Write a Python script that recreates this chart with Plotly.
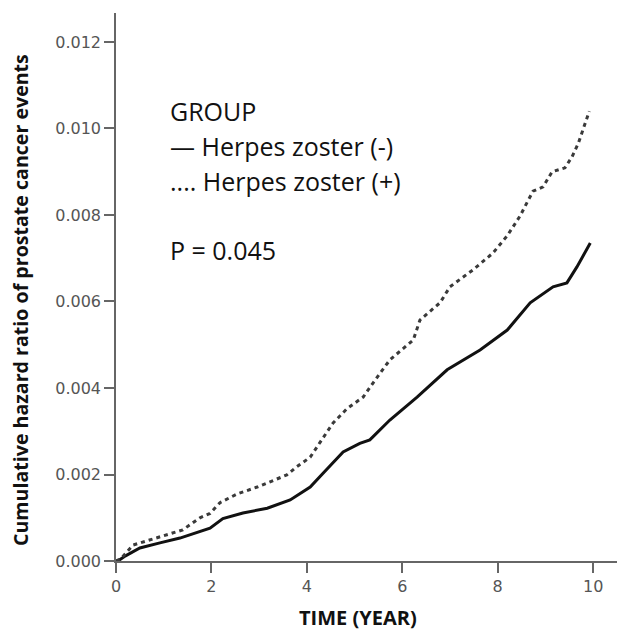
import plotly.graph_objects as go

# Herpes zoster (-) : solid line
t_neg = [0, 0.04, 0.2, 0.5, 0.92, 1.34, 1.97, 2.24, 2.66, 3.17, 3.65, 4.07, 4.34, 4.76,
         5.11, 5.32, 5.74, 6.31, 6.94, 7.63, 8.2, 8.68, 9.16, 9.45, 9.66, 9.94]
v_neg = [0, 0, 0.00012, 0.0003, 0.00042, 0.00053, 0.00076, 0.00098, 0.00111, 0.00122,
         0.00141, 0.00171, 0.00203, 0.00252, 0.00272, 0.0028, 0.00326, 0.00379, 0.00442,
         0.00488, 0.00534, 0.00597, 0.00634, 0.00643, 0.0068, 0.00735]

# Herpes zoster (+) : dotted line
t_pos = [0, 0.1, 0.36, 0.92, 1.4, 1.76, 1.97, 2.18, 2.54, 2.96, 3.3, 3.58, 3.79, 4.07,
         4.28, 4.55, 4.84, 5.18, 5.39, 5.74, 6.23, 6.37, 6.79, 7.0, 7.48, 7.9, 8.2, 8.47,
         8.62, 8.74, 8.95, 9.14, 9.41, 9.56, 9.69, 9.83, 9.92]
v_pos = [0, 0.00005, 0.00037, 0.00055, 0.00072, 0.001, 0.0011, 0.00135, 0.00155, 0.00171,
         0.00187, 0.00199, 0.00218, 0.0024, 0.00275, 0.00319, 0.00352, 0.00379, 0.00412,
         0.00465, 0.00511, 0.00557, 0.00597, 0.00634, 0.00673, 0.00712, 0.00752, 0.00798,
         0.0083, 0.00855, 0.00865, 0.009, 0.00909, 0.00935, 0.00966, 0.01008, 0.0104]

x_ticks = [0, 2, 4, 6, 8, 10]
y_ticks = [0.000, 0.002, 0.004, 0.006, 0.008, 0.010, 0.012]
y_tick_labels = ["0.000", "0.002", "0.004", "0.006", "0.008", "0.010", "0.012"]

legend_title = "GROUP"
legend_lines = ["\u2014 Herpes zoster (-)", ".... Herpes zoster (+)"]
p_text = "P = 0.045"
x_title = "TIME (YEAR)"
y_title = "Cumulative hazard ratio of prostate cancer events"

fig = go.Figure()
fig.add_trace(go.Scatter(x=t_neg, y=v_neg, mode="lines",
                         line=dict(color="#111111", width=3), showlegend=False))
fig.add_trace(go.Scatter(x=t_pos, y=v_pos, mode="lines",
                         line=dict(color="#3a3a3a", width=3, dash="4px,4px"), showlegend=False))

axis_color = "#666666"
tick_font = dict(family="DejaVu Sans", size=16, color="#555555")
fig.update_xaxes(range=[0, 10.5], tickvals=x_ticks, ticks="outside", ticklen=10, tickwidth=1.5,
                 tickcolor=axis_color, showline=True, linecolor=axis_color, linewidth=1.5,
                 showgrid=False, zeroline=False, tickfont=tick_font)
fig.update_yaxes(range=[0, 0.01267], tickvals=y_ticks, ticktext=y_tick_labels, ticks="outside",
                 ticklen=10, tickwidth=1.5, tickcolor=axis_color, showline=True,
                 linecolor=axis_color, linewidth=1.5, showgrid=False, zeroline=False,
                 tickfont=tick_font)

L, R, T, B = 116, 1, 13, 70
W, H = 618, 631
pw, ph = W - L - R, H - T - B

def px(x):
    return (x - L) / pw

def py(y):
    return (H - B - y) / ph

anns = []
font_leg = dict(family="Open Sans", size=25, color="#111111")
rows = [(legend_title, 111), (legend_lines[0], 146), (legend_lines[1], 181), (p_text, 250)]
for txt, yc in rows:
    anns.append(dict(text=txt, x=px(168), y=py(yc), xref="paper", yref="paper",
                     xanchor="left", yanchor="middle", showarrow=False, font=font_leg))
anns.append(dict(text="<b>" + x_title + "</b>", x=px(358), y=py(617), xref="paper", yref="paper",
                 xanchor="center", yanchor="middle", showarrow=False,
                 font=dict(family="Open Sans", size=20, color="#111111")))
anns.append(dict(text="<b>" + y_title + "</b>", x=px(21), y=py(300), xref="paper", yref="paper",
                 xanchor="center", yanchor="middle", showarrow=False, textangle=-90,
                 font=dict(family="Open Sans", size=19.6, color="#111111")))

fig.update_layout(width=W, height=H, margin=dict(l=L, r=R, t=T, b=B),
                  plot_bgcolor="white", paper_bgcolor="white", annotations=anns)
fig.write_html("out.html", config={"displayModeBar": False},
               post_script="document.body.style.margin='0';document.body.style.padding='0';")
